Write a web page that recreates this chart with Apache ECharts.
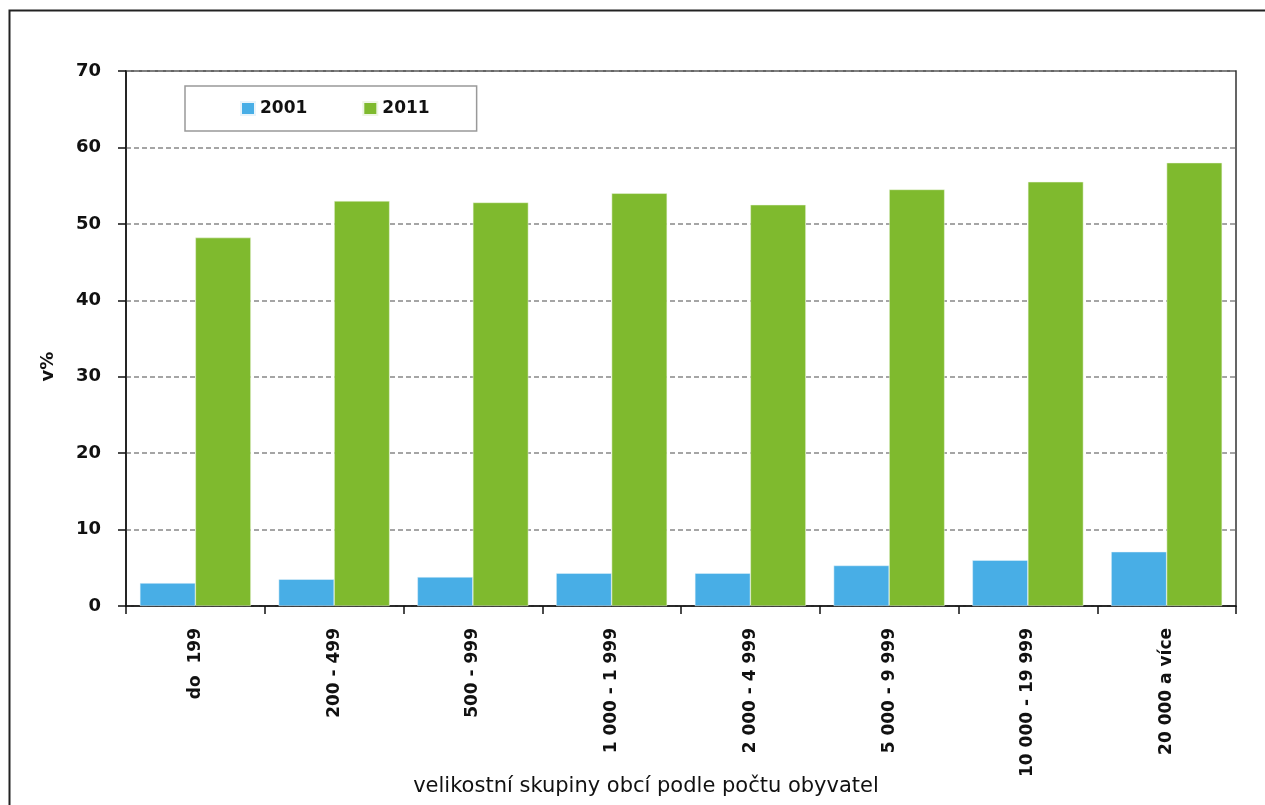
<!DOCTYPE html>
<html>
<head>
<meta charset="utf-8">
<script src="https://cdn.jsdelivr.net/npm/echarts@6/dist/echarts.min.js"></script>
<style>
html,body{margin:0;padding:0;background:#fff;}
#chart{width:1265px;height:805px;}
</style>
</head>
<body>
<div id="chart"></div>
<script>
const categories = ['do  199', '200 - 499', '500 - 999', '1 000 - 1 999', '2 000 - 4 999', '5 000 - 9 999', '10 000 - 19 999', '20 000 a více'];
const values2001 = [3.0, 3.5, 3.8, 4.3, 4.3, 5.3, 6.0, 7.1];
const values2011 = [48.2, 53.0, 52.8, 54.0, 52.5, 54.5, 55.5, 58.0];
const yTicks = [0, 10, 20, 30, 40, 50, 60, 70];

const chart = echarts.init(document.getElementById('chart'), null, {renderer: 'canvas'});
const font = 'DejaVu Sans';
chart.setOption({
  animation: false,
  backgroundColor: '#fff',
  graphic: [{
    type: 'rect',
    shape: {x: 9.5, y: 10.5, width: 1300, height: 900},
    style: {fill: 'none', stroke: '#222', lineWidth: 2},
    silent: true
  }],
  legend: {
    left: 185, top: 86,
    padding: [14, 47, 14, 55],
    itemWidth: 14, itemHeight: 13, itemGap: 55,
    borderColor: '#999', borderWidth: 1.5,
    backgroundColor: '#fff',
    icon: 'rect',
    textStyle: {fontFamily: font, fontWeight: 'bold', fontSize: 17, color: '#111'},
    data: ['2001', '2011']
  },
  grid: {
    left: 126, right: 29, top: 71, bottom: 199,
    outerBoundsMode: 'none',
    containLabel: false,
    show: true, borderColor: '#333', borderWidth: 1.5, backgroundColor: 'transparent'
  },
  xAxis: {
    type: 'category',
    data: categories,
    name: 'velikostní skupiny obcí podle počtu obyvatel',
    nameLocation: 'middle',
    nameGap: 170,
    nameMoveOverlap: false,
    nameTextStyle: {fontFamily: font, fontSize: 21, color: '#111', padding: [0, 70, 0, 0]},
    axisLine: {lineStyle: {color: '#111', width: 1.5}},
    axisTick: {show: true, length: 8, lineStyle: {color: '#111', width: 1.5}},
    axisLabel: {rotate: 90, interval: 0, margin: 22, fontFamily: font, fontWeight: 'bold', fontSize: 17, color: '#111'}
  },
  yAxis: {
    type: 'value',
    min: 0, max: 70, interval: 10,
    name: 'v%',
    nameLocation: 'middle',
    nameRotate: 90,
    nameGap: 78,
    nameMoveOverlap: false,
    nameTextStyle: {fontFamily: font, fontWeight: 'bold', fontSize: 18, color: '#111', padding: [0, 56, 0, 0], verticalAlign: 'middle'},
    axisLine: {show: true, lineStyle: {color: '#111', width: 1.5}},
    axisTick: {show: true, length: 8, lineStyle: {color: '#111', width: 1.5}},
    axisLabel: {margin: 25, fontFamily: font, fontWeight: 'bold', fontSize: 18, color: '#111',
      formatter: v => yTicks.includes(v) ? String(v) : ''},
    splitLine: {show: true, lineStyle: {color: '#888', type: [5, 3], width: 1.5}}
  },
  series: [
    {name: '2001', type: 'bar', data: values2001, barGap: '0%', barCategoryGap: '20%',
     itemStyle: {color: '#48AEE6', borderColor: '#e8f4fb', borderWidth: 0.5}},
    {name: '2011', type: 'bar', data: values2011, barGap: '0%', barCategoryGap: '20%',
     itemStyle: {color: '#7FBA2E', borderColor: '#eef6e4', borderWidth: 0.5}}
  ]
});
</script>
</body>
</html>
